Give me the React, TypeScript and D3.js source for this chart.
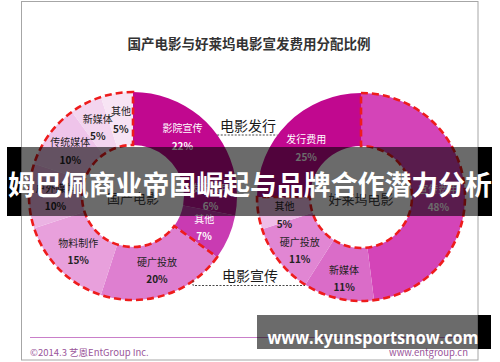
import { useEffect, useRef } from 'react';
import * as d3 from 'd3';

// 国产电影 宣发费用分配（从12点方向顺时针）
const cnLabels = ['影院宣传', '发行费用', '其他', '硬广投放', '物料制作', '户外媒体', '传统媒体', '新媒体', '其他'];
const cnValues = [22, 6, 7, 20, 15, 10, 10, 5, 5];
const cnGroups = ['发行', '发行', '发行', '宣传', '宣传', '宣传', '宣传', '宣传', '宣传'];

// 好莱坞电影 宣发费用分配
const hwLabels = ['宣传费用', '新媒体', '硬广投放', '其他', '发行费用'];
const hwValues = [48, 11, 11, 5, 25];
const hwGroups = ['宣传', '宣传', '宣传', '宣传', '发行'];

const cnColors = ['#c1088f', '#c0149a', '#c93bb2', '#de7fd0', '#e8a0dc', '#ebb3e3', '#efc4ea', '#f3d5ef', '#f7e4f4'];
const hwColors = ['#d444b8', '#da6cc8', '#e186d3', '#efbde7', '#c1088f'];

const TITLE = '国产电影与好莱坞电影宣发费用分配比例';
const BANNER = '姆巴佩商业帝国崛起与品牌合作潜力分析';
const WATERMARK = 'www.kyunsportsnow.com';

const FONT = '"Noto Sans CJK SC", "Noto Sans", sans-serif';
const R_IN = 51;
const R_OUT = 104;

export default function App() {
  const svgRef = useRef<SVGSVGElement | null>(null);

  useEffect(() => {
    const svg = d3.select(svgRef.current);
    svg.selectAll('*').remove();

    // 外框
    svg.append('rect')
      .attr('x', 21.5).attr('y', 1.5).attr('width', 456.5).attr('height', 358.5)
      .attr('fill', '#fff').attr('stroke', '#a6a6a6');

    svg.append('text')
      .attr('x', 249).attr('y', 43)
      .attr('text-anchor', 'middle').attr('dominant-baseline', 'central')
      .style('font-family', FONT).style('font-size', '13.5px').style('font-weight', 'bold')
      .style('fill', '#333')
      .text(TITLE);

    const pie = d3.pie<number>().sort(null).value(d => d);
    const arc = d3.arc<any>().innerRadius(R_IN).outerRadius(R_OUT);

    const drawDonut = (labels: string[], values: number[], groups: string[], colors: string[],
      cx: number, cy: number, centerName: string, yShift: number) => {
      const g = svg.append('g').attr('transform', `translate(${cx},${cy})`);
      const arcs = pie(values);

      g.selectAll('path.slice')
        .data(arcs)
        .join('path')
        .attr('class', 'slice')
        .attr('d', arc)
        .attr('fill', (d, i) => colors[i]);

      // 宣传部分红色虚线框
      const promo = arcs.filter((d, i) => groups[i] === '宣传');
      const start = d3.min(promo, d => d.startAngle) as number;
      const end = d3.max(promo, d => d.endAngle) as number;
      g.append('path')
        .attr('d', arc({ startAngle: start, endAngle: end }))
        .attr('fill', 'none')
        .attr('stroke', '#ee1c1c')
        .attr('stroke-width', 2.6)
        .attr('stroke-dasharray', '7 4');

      const isDark = (c: string) => (d3.hsl(c).l < 0.58);
      const lab = g.selectAll('g.lab')
        .data(arcs)
        .join('g')
        .attr('class', 'lab')
        .attr('transform', d => {
          const [x, y] = arc.centroid(d);
          return `translate(${x},${y + yShift})`;
        })
        .style('font-family', FONT)
        .style('font-size', '10px')
        .style('fill', (d, i) => (isDark(colors[i]) ? '#fff' : '#222'));
      lab.append('text')
        .attr('text-anchor', 'middle').attr('dominant-baseline', 'central')
        .attr('y', -8.5)
        .text((d, i) => labels[i]);
      lab.append('text')
        .attr('text-anchor', 'middle').attr('dominant-baseline', 'central')
        .attr('y', 9)
        .style('font-weight', 'bold')
        .text(d => `${d.data}%`);

      g.append('text')
        .attr('text-anchor', 'middle').attr('dominant-baseline', 'central')
        .attr('y', 1)
        .style('font-family', FONT).style('font-size', '13px').style('fill', '#444')
        .text(centerName);
    };

    const cxL = 133, cyL = 196, cxR = 361, cyR = 197;
    drawDonut(cnLabels, cnValues, cnGroups, cnColors, cxL, cyL, '国产电影', 0);
    drawDonut(hwLabels, hwValues, hwGroups, hwColors, cxR, cyR, '好莱坞电影', 5);

    // 标注：电影发行 / 电影宣传
    const yTop = 135;
    const x1 = cxL + Math.sqrt(R_OUT * R_OUT - (yTop - cyL) ** 2);
    const x2 = cxR - Math.sqrt(R_OUT * R_OUT - (yTop - cyR) ** 2);
    svg.append('line')
      .attr('x1', x1).attr('x2', x2).attr('y1', yTop).attr('y2', yTop)
      .attr('stroke', '#333').attr('stroke-width', 0.9).attr('stroke-dasharray', '2 1.5');
    svg.append('path')
      .attr('d', 'M193,280.5V285.5H305')
      .attr('fill', 'none')
      .attr('stroke', '#333').attr('stroke-width', 0.9).attr('stroke-dasharray', '2 1.5');

    const note = (t: string, x: number, y: number) => svg.append('text')
      .attr('x', x).attr('y', y)
      .attr('text-anchor', 'middle').attr('dominant-baseline', 'central')
      .style('font-family', FONT).style('font-size', '14px').style('fill', '#1a1a1a')
      .text(t);
    note('电影发行', 248, 125);
    note('电影宣传', 250, 275);

    // 页脚
    svg.append('line')
      .attr('x1', 30).attr('x2', 470).attr('y1', 337.5).attr('y2', 337.5)
      .attr('stroke', '#c97fc9').attr('stroke-width', 1);
    svg.append('text')
      .attr('x', 30).attr('y', 352)
      .attr('dominant-baseline', 'central')
      .style('font-family', FONT).style('font-size', '9.5px').style('fill', '#9a559a')
      .text('©2014.3 艺恩EntGroup Inc.');
    svg.append('text')
      .attr('x', 468).attr('y', 352)
      .attr('text-anchor', 'end').attr('dominant-baseline', 'central')
      .style('font-family', FONT).style('font-size', '9.5px').style('fill', '#9a559a')
      .text('www.entgroup.cn');

    // 标题横幅
    svg.append('rect')
      .attr('x', 7).attr('y', 147).attr('width', 485).attr('height', 69)
      .attr('fill', '#000').attr('opacity', 0.58);
    svg.append('rect').attr('x', 7).attr('y', 147).attr('width', 14).attr('height', 69).attr('fill', '#000');
    svg.append('rect').attr('x', 478).attr('y', 147).attr('width', 14).attr('height', 69).attr('fill', '#000');
    svg.append('text')
      .attr('x', 250).attr('y', 183)
      .attr('text-anchor', 'middle').attr('dominant-baseline', 'central')
      .attr('textLength', 484).attr('lengthAdjust', 'spacingAndGlyphs')
      .style('font-family', FONT).style('font-size', '27px').style('font-weight', 'bold')
      .style('fill', '#fff')
      .text(BANNER);

    // 水印
    svg.append('rect')
      .attr('x', 257).attr('y', 315).attr('width', 234).attr('height', 34)
      .attr('fill', '#000').attr('opacity', 0.58);
    svg.append('rect').attr('x', 478).attr('y', 315).attr('width', 13).attr('height', 34).attr('fill', '#000');
    svg.append('text')
      .attr('x', 373).attr('y', 337)
      .attr('text-anchor', 'middle').attr('dominant-baseline', 'central')
      .attr('textLength', 211).attr('lengthAdjust', 'spacingAndGlyphs')
      .style('font-family', '"Open Sans", "DejaVu Sans", sans-serif')
      .style('font-size', '17px').style('font-weight', 'bold')
      .style('fill', '#fff')
      .text(WATERMARK);
  }, []);

  return (
    <div style={{ position: 'absolute', left: 0, top: 0 }}>
      <svg ref={svgRef} width={500} height={362} style={{ display: 'block' }} />
    </div>
  );
}
